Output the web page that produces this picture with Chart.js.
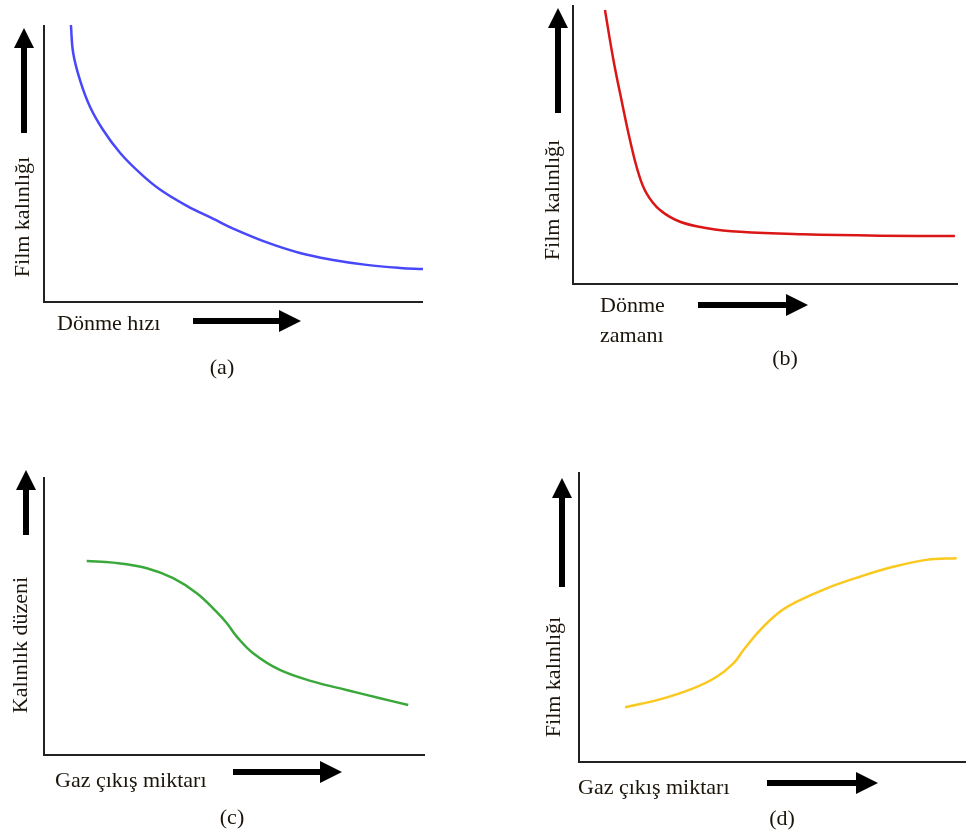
<!DOCTYPE html>
<html lang="tr">
<head>
<meta charset="UTF-8">
<title>Film kalınlığı grafikleri</title>
<script src="https://cdn.jsdelivr.net/npm/chart.js"></script>
<style>
    html, body { margin: 0; padding: 0; background: #fff; }
    body { width: 966px; height: 836px; position: relative; overflow: hidden; }
    canvas { position: absolute; }
    .lbl { position: absolute; font-family: "Liberation Serif", "Times New Roman", serif; font-size: 22px; color: #1a140a; line-height: 1; white-space: nowrap; }
    .ctr { transform: translate(-50%, -50%); }
    .lft { transform: translateY(-50%); }
    .rot { transform: translate(-50%, -50%) rotate(-90deg); }
</style>
</head>
<body>
    <canvas id="chartA" width="483" height="418" style="left:0;top:0"></canvas>
    <canvas id="chartB" width="483" height="418" style="left:483px;top:0"></canvas>
    <canvas id="chartC" width="483" height="418" style="left:0;top:418px"></canvas>
    <canvas id="chartD" width="483" height="418" style="left:483px;top:418px"></canvas>

    <!-- (a) -->
    <div class="lbl rot" style="left:22px;top:217px">Film kalınlığı</div>
    <div class="lbl lft" style="left:57px;top:323px">Dönme hızı</div>
    <div class="lbl ctr" style="left:222px;top:367px">(a)</div>
    <!-- (b) -->
    <div class="lbl rot" style="left:552px;top:200px">Film kalınlığı</div>
    <div class="lbl lft" style="left:600px;top:305px">Dönme</div>
    <div class="lbl lft" style="left:600px;top:335px">zamanı</div>
    <div class="lbl ctr" style="left:785px;top:358px">(b)</div>
    <!-- (c) -->
    <div class="lbl rot" style="left:20px;top:645px">Kalınlık düzeni</div>
    <div class="lbl lft" style="left:55px;top:780px">Gaz çıkış miktarı</div>
    <div class="lbl ctr" style="left:232px;top:817px">(c)</div>
    <!-- (d) -->
    <div class="lbl rot" style="left:553px;top:677px">Film kalınlığı</div>
    <div class="lbl lft" style="left:578px;top:787px">Gaz çıkış miktarı</div>
    <div class="lbl ctr" style="left:782px;top:818px">(d)</div>

<script>
    // (a) film kalınlığı - dönme hızı
    const hizA = [7.1, 7.7, 9.5, 12.1, 15.6, 20.1, 25.3, 30.6, 37.7, 44.7, 49.9, 58.8, 67.5, 76.3, 85.1, 93.9, 100];
    const kalinlikA = [100, 89.9, 80.1, 70.6, 62.1, 53.8, 46.6, 40.6, 34.7, 30.0, 26.5, 21.5, 17.7, 15.2, 13.4, 12.3, 11.9];
    // (b) film kalınlığı - dönme zamanı
    const zamanB = [8.3, 10.5, 12.6, 14.8, 17.0, 19.1, 22.6, 27.8, 34.9, 43.4, 59.7, 79.7, 99.2];
    const kalinlikB = [98.2, 80.3, 65.9, 51.6, 39.7, 32.5, 26.5, 22.3, 20.0, 18.7, 17.8, 17.3, 17.2];
    // (c) kalınlık düzeni - gaz çıkış miktarı
    const gazC = [11.2, 18.2, 27.0, 33.9, 40.1, 45.3, 48.0, 50.6, 54.9, 61.9, 70.7, 79.4, 88.2, 95.6];
    const duzenC = [69.8, 69.2, 67.2, 63.6, 58.2, 51.5, 47.4, 42.6, 36.6, 30.6, 26.4, 23.4, 20.4, 18.0];
    // (d) film kalınlığı - gaz çıkış miktarı
    const gazD = [11.9, 20.9, 29.5, 35.6, 39.9, 42.5, 46.8, 51.9, 56.3, 64.0, 72.6, 81.2, 89.8, 97.6];
    const kalinlikD = [18.9, 21.6, 25.4, 29.4, 34.0, 38.6, 45.5, 51.8, 55.3, 59.9, 63.9, 67.3, 69.7, 70.3];

    // eksen çizgileri ve oklar
    const framePlugin = {
        id: 'frame',
        afterDraw(chart, args, opts) {
            const ctx = chart.ctx;
            const a = chart.chartArea;
            ctx.save();
            ctx.strokeStyle = '#222';
            ctx.lineWidth = 2;
            ctx.beginPath();
            ctx.moveTo(a.left, a.top);
            ctx.lineTo(a.left, a.bottom);
            ctx.lineTo(a.right, a.bottom);
            ctx.stroke();

            ctx.fillStyle = '#000';
            const u = opts.up;
            ctx.fillRect(u.x - 3, u.top + 19, 6, u.bottom - u.top - 19);
            ctx.beginPath();
            ctx.moveTo(u.x, u.top);
            ctx.lineTo(u.x - 10, u.top + 20);
            ctx.lineTo(u.x + 10, u.top + 20);
            ctx.closePath();
            ctx.fill();

            const r = opts.right;
            ctx.fillRect(r.left, r.y - 3, r.right - r.left - 21, 6);
            ctx.beginPath();
            ctx.moveTo(r.right, r.y);
            ctx.lineTo(r.right - 22, r.y - 11);
            ctx.lineTo(r.right - 22, r.y + 11);
            ctx.closePath();
            ctx.fill();
            ctx.restore();
        }
    };

    function makeChart(id, xs, ys, color, padding, arrows) {
        return new Chart(document.getElementById(id), {
            type: 'line',
            data: {
                datasets: [{
                    data: xs.map((x, i) => ({ x: x, y: ys[i] })),
                    borderColor: color,
                    borderWidth: 2.5,
                    pointRadius: 0,
                    tension: 0.4,
                    clip: false
                }]
            },
            options: {
                responsive: false,
                animation: false,
                layout: { padding: padding },
                plugins: {
                    legend: { display: false },
                    tooltip: { enabled: false },
                    frame: arrows
                },
                scales: {
                    x: { type: 'linear', min: 0, max: 100, display: false },
                    y: { type: 'linear', min: 0, max: 100, display: false }
                }
            },
            plugins: [framePlugin]
        });
    }

    makeChart('chartA', hizA, kalinlikA, 'rgb(72, 72, 250)',
        { left: 44, top: 25, right: 60, bottom: 116 },
        { up: { x: 24, top: 28, bottom: 133 }, right: { y: 321, left: 193, right: 301 } });

    makeChart('chartB', zamanB, kalinlikB, 'rgb(218, 22, 22)',
        { left: 90, top: 5, right: 8, bottom: 134 },
        { up: { x: 75, top: 8, bottom: 113 }, right: { y: 305, left: 215, right: 325 } });

    makeChart('chartC', gazC, duzenC, 'rgb(58, 168, 58)',
        { left: 44, top: 59, right: 58, bottom: 81 },
        { up: { x: 26, top: 52, bottom: 117 }, right: { y: 354, left: 233, right: 342 } });

    makeChart('chartD', gazD, kalinlikD, 'rgb(250, 200, 30)',
        { left: 96, top: 54, right: 0, bottom: 74 },
        { up: { x: 79, top: 60, bottom: 169 }, right: { y: 365, left: 284, right: 395 } });
</script>
</body>
</html>
